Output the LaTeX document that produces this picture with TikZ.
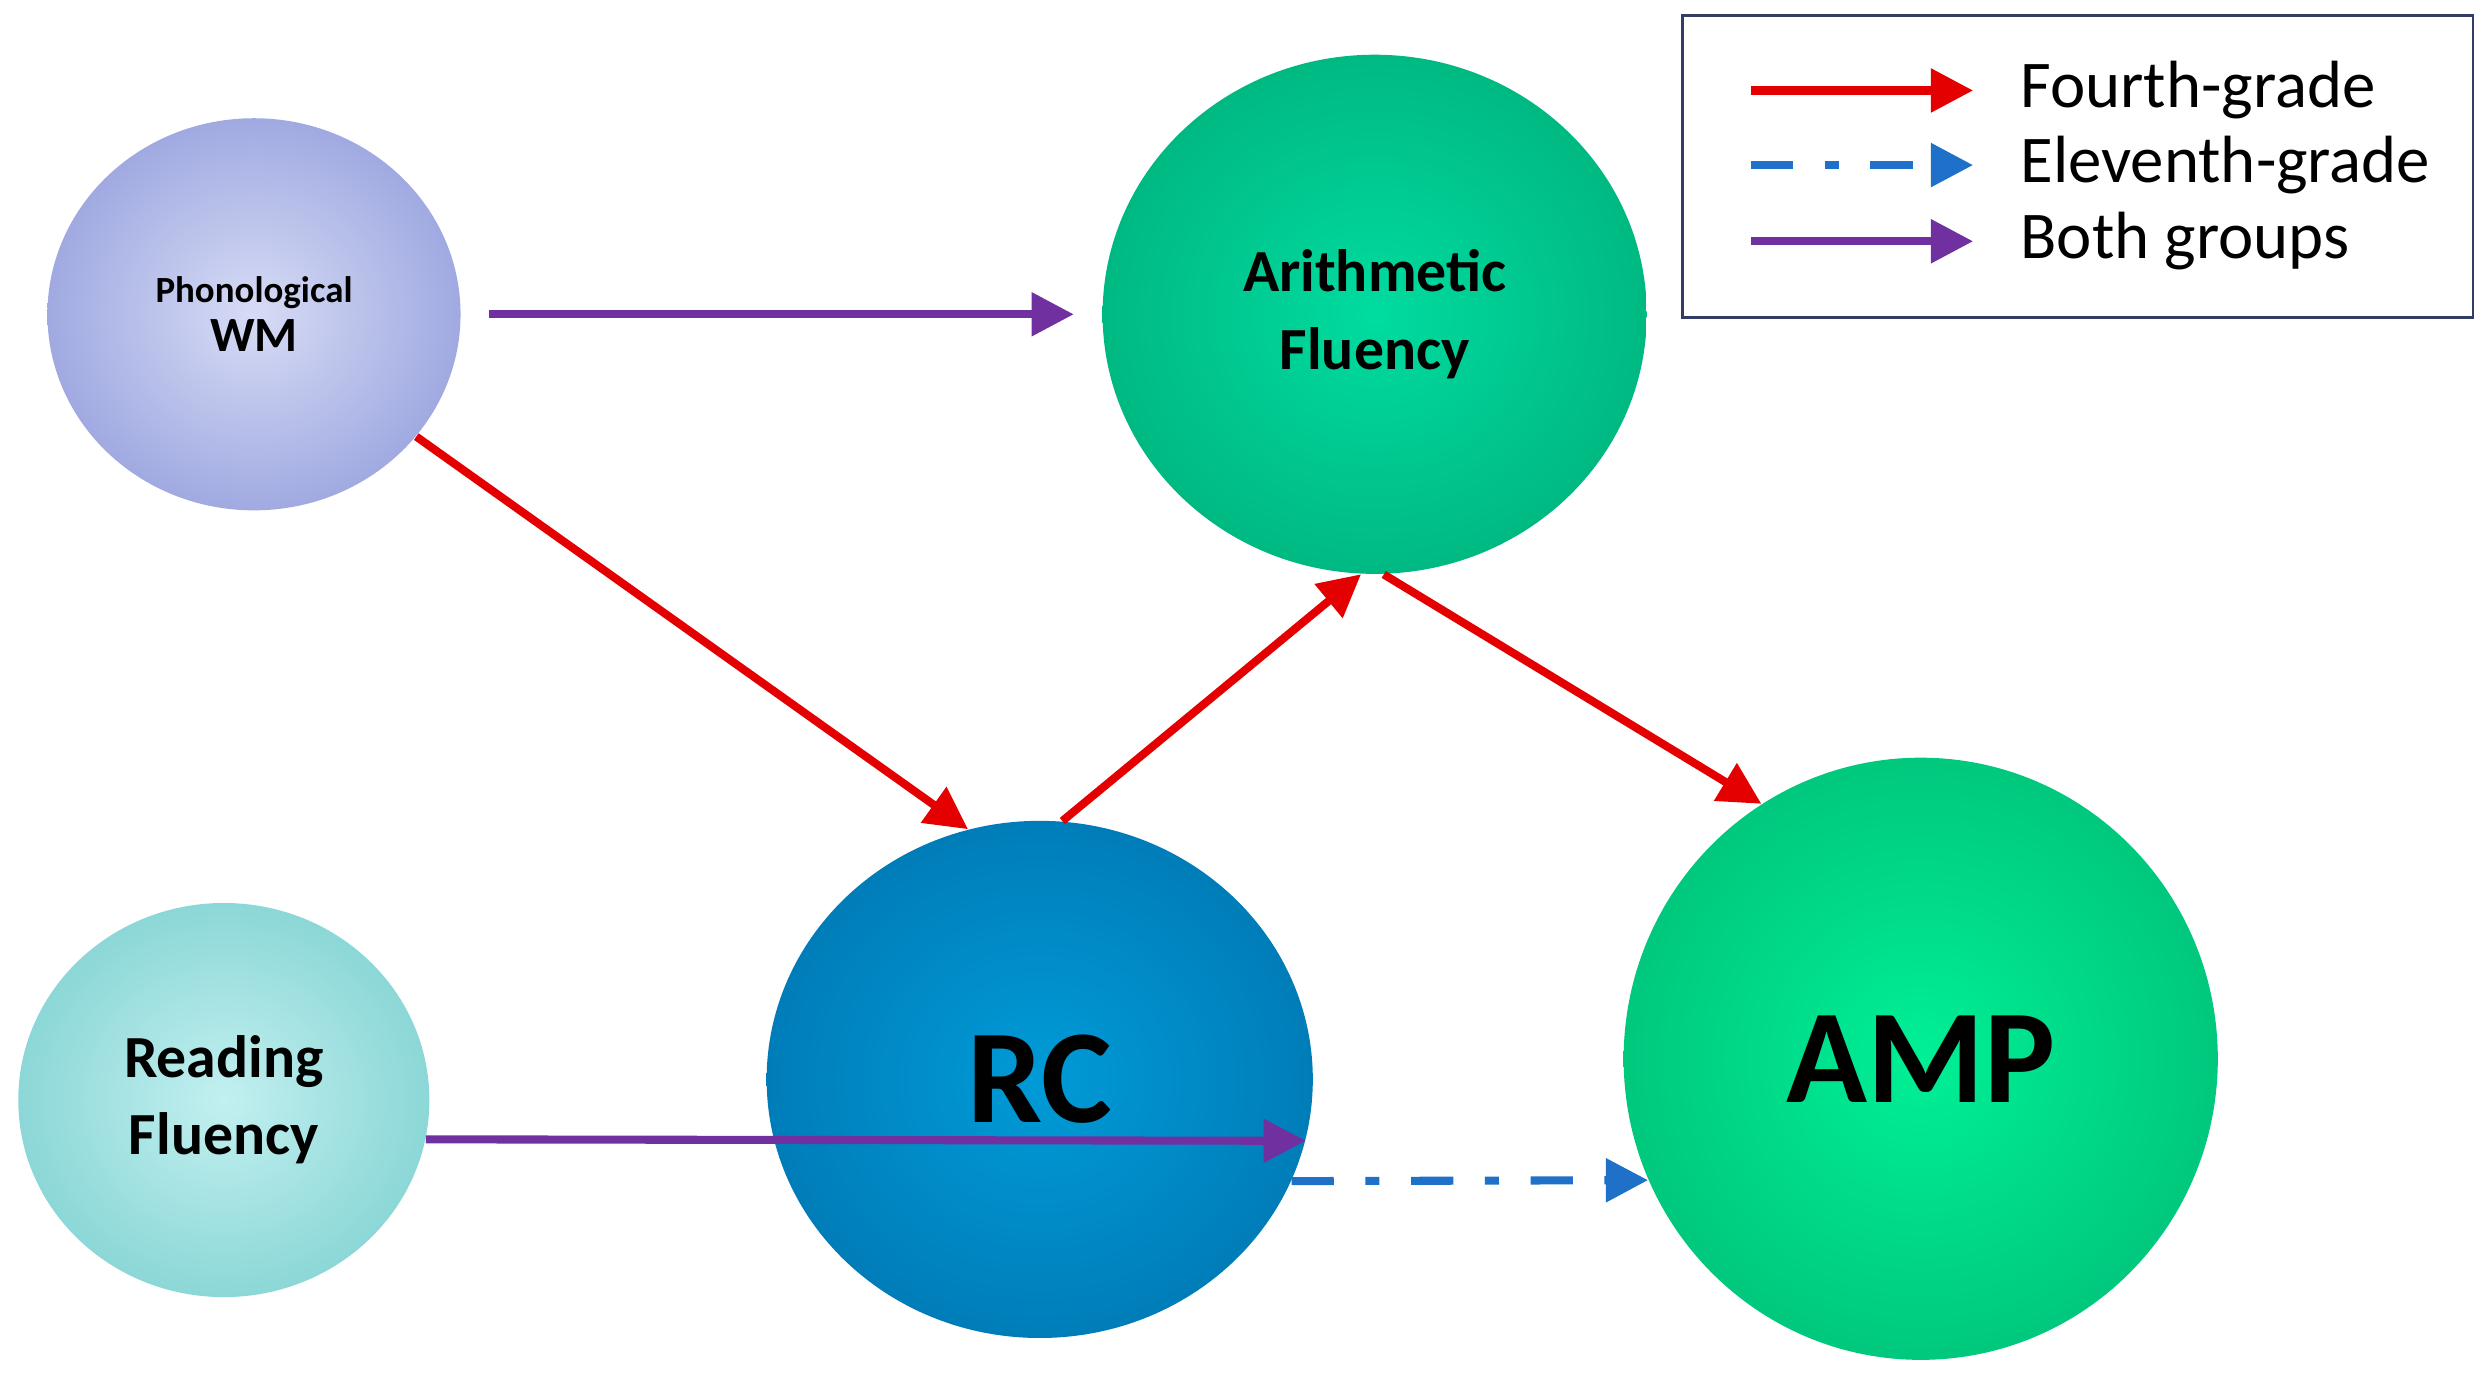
\documentclass[tikz,border=0pt]{standalone}
\usepackage{fontspec}
\setmainfont{Carlito}
\usetikzlibrary{arrows.meta,shapes.geometric}
\definecolor{redarr}{RGB}{228,0,0}
\definecolor{purarr}{RGB}{112,48,160}
\definecolor{bluarr}{RGB}{30,112,200}
\tikzset{
  ball/.style     = {ellipse, align=center, font=\bfseries,
                     inner sep=0pt, shading=radial},
  fourth/.style   = {-{Triangle[length=12pt,width=12pt]}, line width=2.3pt, draw=redarr},
  eleventh/.style = {-{Triangle[length=12pt,width=12pt]}, line width=2.3pt, draw=bluarr,
                     dash pattern=on 12pt off 9pt on 4pt off 9pt},
  both/.style     = {-{Triangle[length=12pt,width=12pt]}, line width=2.3pt, draw=purarr}
}
\begin{document}
\begin{tikzpicture}[x=0.015874cm,y=-0.015874cm]
  \useasboundingbox (0,0) rectangle (1568,875.6);

  % circles
  \node [ball, minimum width=260\pgflinewidth, minimum width=4.13cm, minimum height=3.92cm,
         inner color={rgb,255:red,215;green,220;blue,245}, outer color={rgb,255:red,160;green,170;blue,225}]
        (pwm) at (160,198) {{\fontsize{10.5}{13}\selectfont Phonological}\\[2pt]{\fontsize{14}{16}\selectfont WM}};
  \node [ball, minimum width=5.44cm, minimum height=5.19cm,
         inner color={rgb,255:red,0;green,220;blue,160}, outer color={rgb,255:red,0;green,185;blue,130},
         font=\bfseries\fontsize{17}{22}\selectfont]
        (af) at (866,198) {Arithmetic\\Fluency};
  \node [ball, minimum width=5.46cm, minimum height=5.17cm,
         inner color={rgb,255:red,0;green,155;blue,215}, outer color={rgb,255:red,0;green,125;blue,185},
         font=\bfseries\fontsize{38}{40}\selectfont]
        (rc) at (655,680) {RC};
  \node [ball, minimum width=5.94cm, minimum height=6.02cm,
         inner color={rgb,255:red,0;green,240;blue,150}, outer color={rgb,255:red,0;green,200;blue,125},
         font=\bfseries\fontsize{38}{40}\selectfont]
        (amp) at (1210,667) {AMP};
  \node [ball, minimum width=4.11cm, minimum height=3.94cm,
         inner color={rgb,255:red,195;green,240;blue,240}, outer color={rgb,255:red,140;green,215;blue,215},
         font=\bfseries\fontsize{17}{22}\selectfont]
        (rf) at (141,693) {Reading\\Fluency};

  % paths
  \draw [both, shorten <=8pt, shorten >=8pt] (pwm) -- (af);
  \draw [fourth] (pwm.-37) -- (rc.106);
  \draw [fourth] (rc.85) -- (af.-93);
  \draw [fourth] (af.-88) -- (amp.122);
  \draw [both] (rf.-11.6) -- (rc.-193.5+180);
  \draw [eleventh] (rc.-22.7) -- (amp.-156.4);

  % legend
  \node [draw={rgb,255:red,50;green,60;blue,100}, line width=0.8pt, minimum width=7.9cm,
         minimum height=3.02cm] (legend) at (1309,105) {};
  \coordinate (l1a) at (1103,57);  \coordinate (l1b) at (1243,57);
  \coordinate (l2a) at (1103,104); \coordinate (l2b) at (1243,104);
  \coordinate (l3a) at (1103,152); \coordinate (l3b) at (1243,152);
  \draw [fourth] (l1a) -- (l1b);
  \draw [eleventh] (l2a) -- (l2b);
  \draw [both] (l3a) -- (l3b);
  \node [anchor=west, font=\fontsize{19}{22}\selectfont] (t1) at (1265,57) {Fourth-grade};
  \node [anchor=west, font=\fontsize{19}{22}\selectfont] (t2) at (1265,104) {Eleventh-grade};
  \node [anchor=west, font=\fontsize{19}{22}\selectfont] (t3) at (1265,152) {Both groups};
\end{tikzpicture}
\end{document}
